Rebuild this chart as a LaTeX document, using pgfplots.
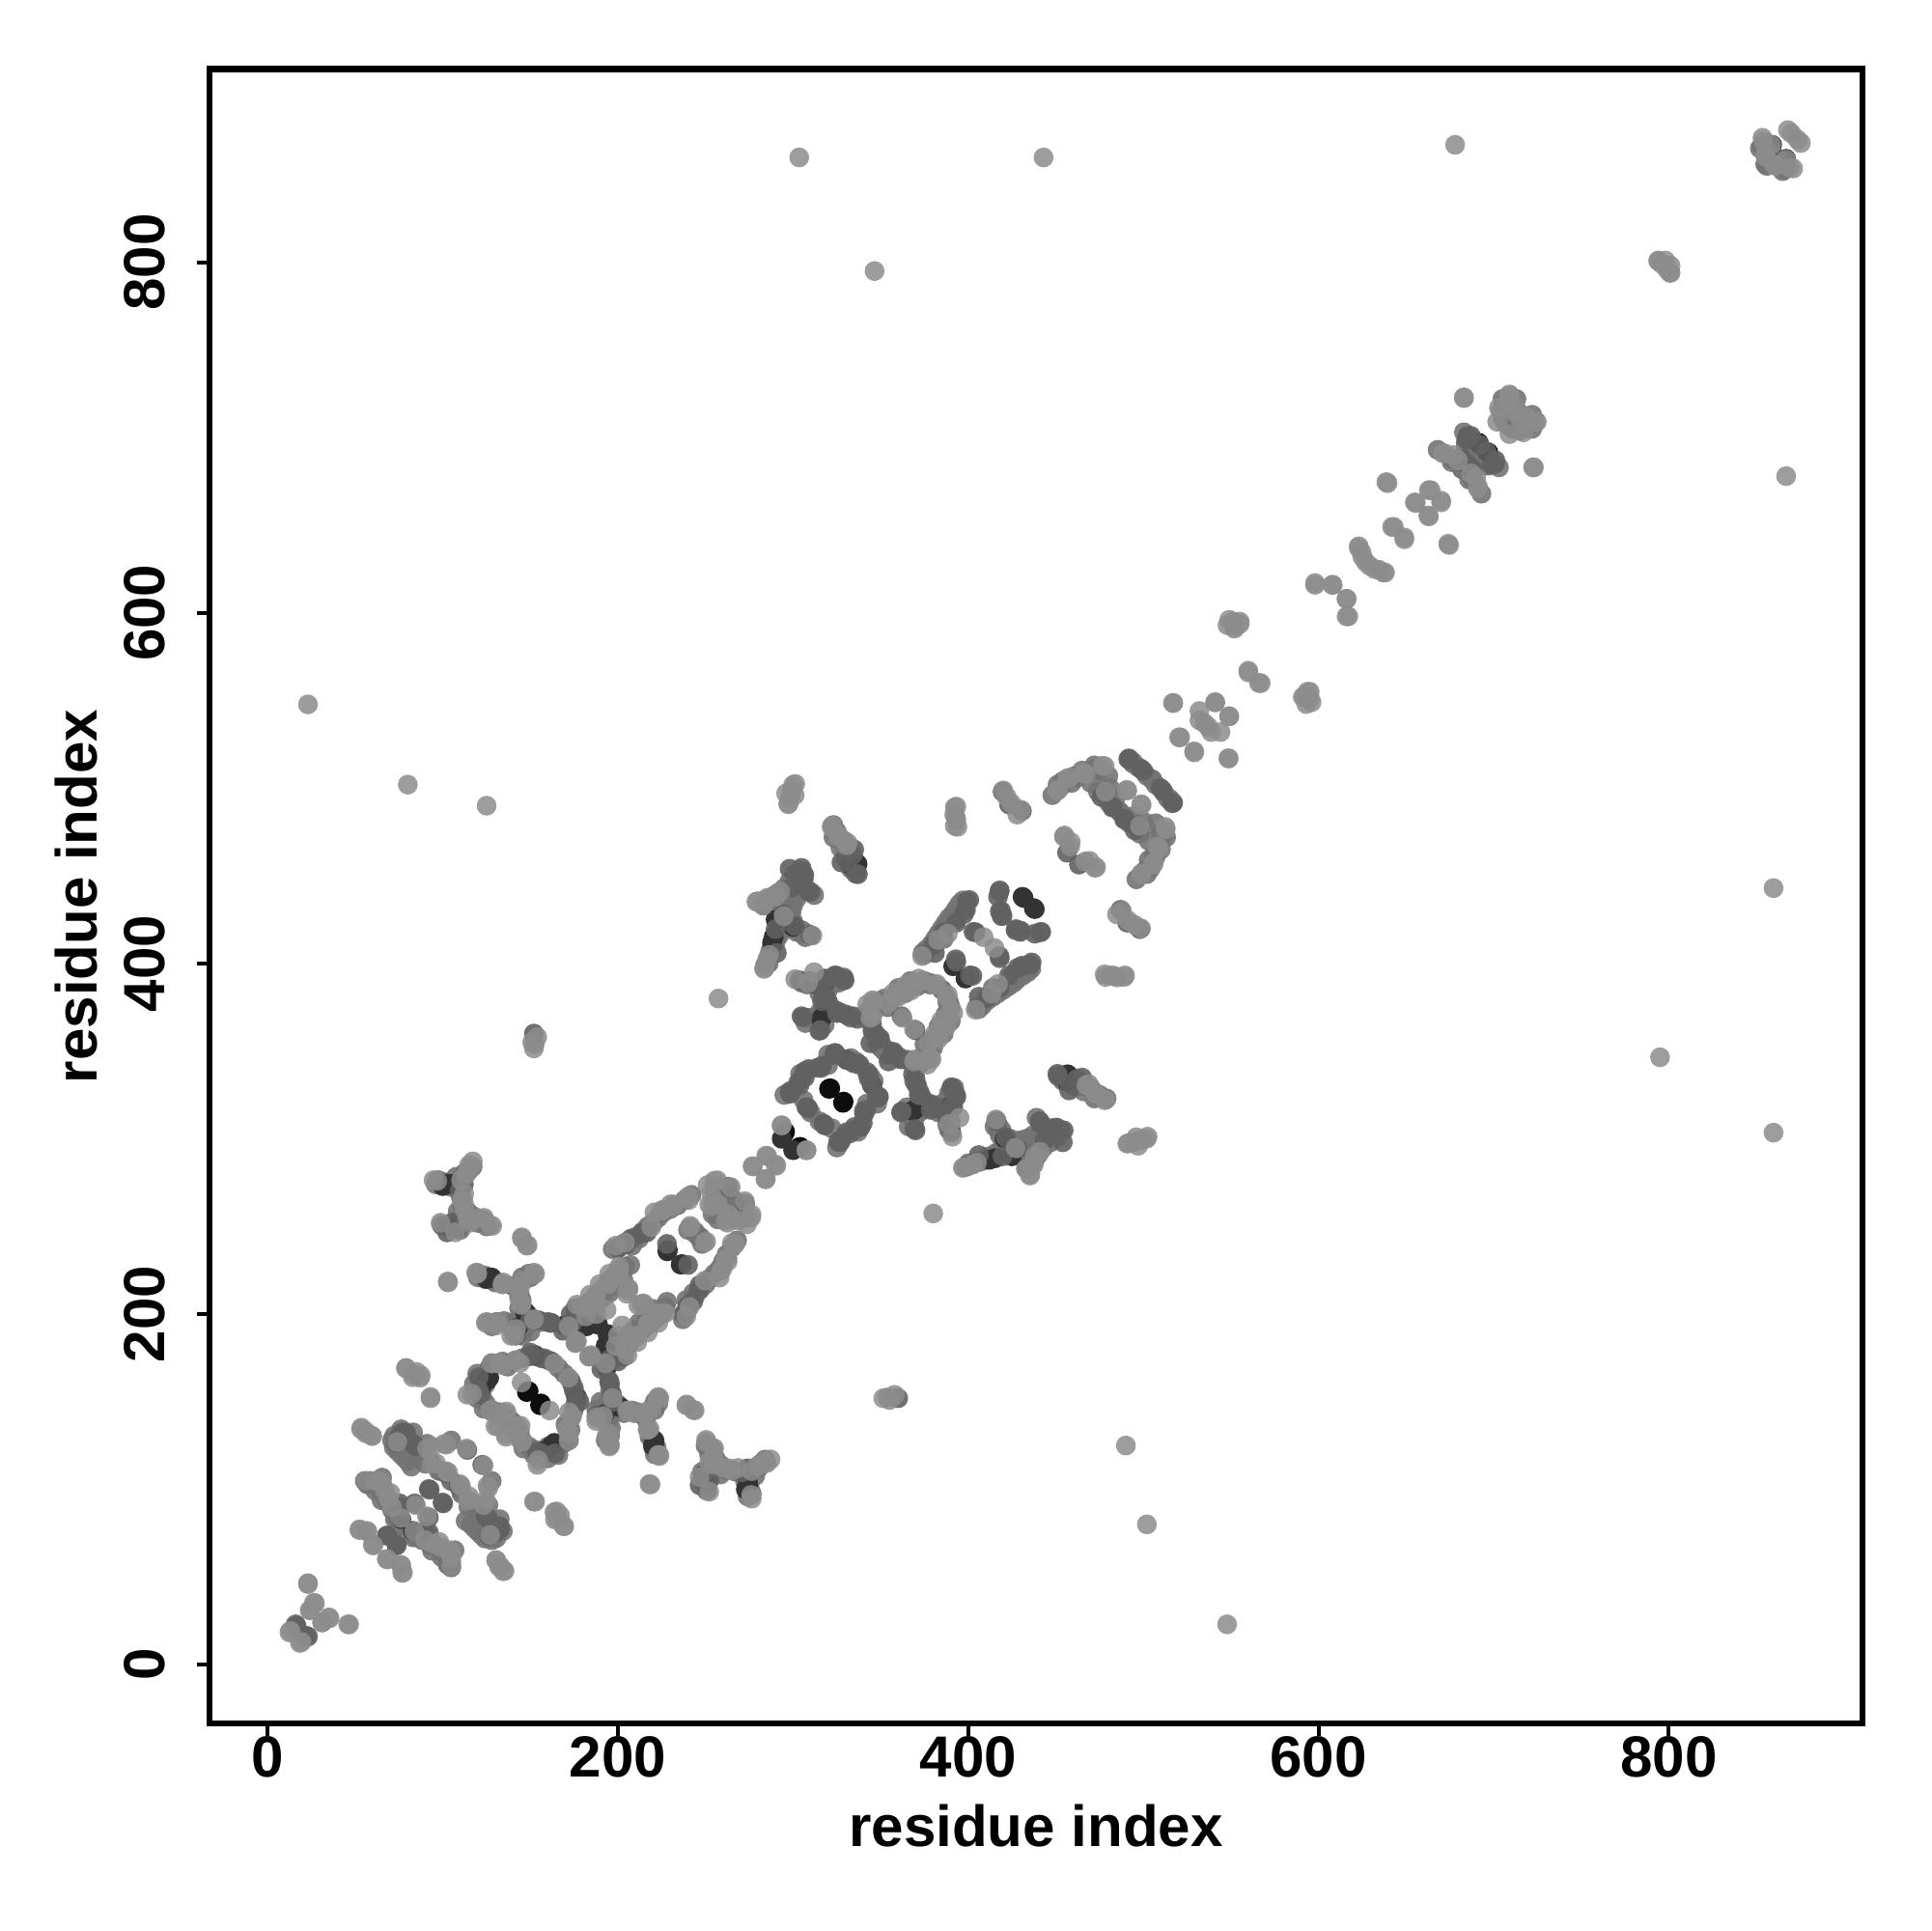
\documentclass[border=0pt]{standalone}
\usepackage{pgfplots}
\pgfplotsset{compat=1.18}
\usepackage{pgfplotstable}
\usepackage{fontspec}
\setmainfont{Liberation Sans}
\pgfplotstableread{
x y
12.4 18.4
19.3 13
23 46
27 35
24 31
31.2 24.3
35.3 26.4
46.5 23
52.4 76.8
57 76
60.3 68
68.4 60
76.3 56.5
77.2 52.5
56 104.8
60.7 104.8
65.3 103.8
70 98
84.6 91
83.7 76
90 71
94.7 69
99.3 67
104.8 63.3
93.8 124.5
102 125.5
93.8 114.6
103 109.7
123.3 113.6
110.4 101.8
115 96
126 100.8
123.3 91
127 74
53.3 134.4
59.7 130.4
56 132
87.4 165
79 169
93 152
82.8 164
85 167
152.7 93
163.7 87
169.3 79
165.6 83
130.6 59.4
135.2 53.5
133 56
127.9 171.8
134.3 170.8
141.6 173.8
163.7 171.8
172 144
172 132
154.5 116.6
145.3 128
144.4 136.3
136 143
127 145
114 154
131.5 136
136 130
161 145
103 218
218.6 102.8
145.3 243
148 239
94.7 276.4
110.4 276.4
116 284
112.2 268.5
112 263.5
119.6 254.7
127 250.7
114 254.7
119.6 223
134.3 217
145.3 219
152.7 223
143.5 209
125 195.5
130.6 193.5
141.6 191.5
139 187.6
176.6 184.6
184 175.8
193 171.8
206 145
215 144
223.6 152
217 134
223.6 119.6
195 126.5
176.6 205.4
184 211
189.5 217
195 223
200.6 227
206 214
211.6 205
222.6 200.4
202.4 193.5
206 187.6
198.7 181.7
220.8 258
230 262.6
198.7 239
204 240.8
239.3 148.4
243.8 145.1
250.3 128.2
254.9 123.5
252.1 98.7
246.6 107
259.5 112.5
265 110.7
276 96.8
279.7 113.4
287.1 117.1
285 115
252 115.3
285.3 290
277 284.2
290.4 284.6
284.4 276.9
251.2 273.6
256.7 276.3
272.4 264.4
263 257
252.1 262.5
276 255
268.7 253.3
261.4 253.3
240 267
231.9 262.5
224.5 258.8
219 249.6
241 249.6
250.3 241.3
265 240.4
261.4 231
259.5 225.7
200.6 225.7
195 218.3
187.7 211
206 214.7
213.5 205.5
224.5 200
217 194.4
209.8 187
204.3 179.7
187.7 200
175.7 183.4
196.9 152
222.7 152
215.3 142.9
218 134.6
223.6 119
205.2 144.7
187.7 141
195 124.5
195 131.8
293.5 307.6
307.7 293.4
380 257.4
351.5 152
354 152.5
358 153.9
355 151
297.2 490.8
300 501.8
300.9 496
502.4 301.2
498.7 299.3
495 298.4
491.4 297.5
497 296
473 326
478.5 322.3
467.4 330.6
438 290
435.2 279
436 284
427 294.7
415.9 311
397.5 283.7
404.9 286.4
415 408.8
373.6 404.2
382.8 413.4
388.3 417
371.7 391.4
364.4 387.7
357 383
346 378.5
381 387.7
388.3 382
390.1 373.9
384.6 367.4
381 360
377.3 354.5
379 345.3
369.9 345.3
362.5 369
342.3 376.6
344.1 369
389 308.5
391 301.2
395 312
322 477.9
325.7 472.3
331.2 468.7
279.7 435.5
285.2 437.4
283 433
292.6 441
283.4 396.9
285.2 402.4
392.9 483.4
393.8 477.9
392.3 489
482 393.2
489.5 393.2
485 392
478.5 392.3
487.7 430
484.9 428
491.4 424.5
498.7 420
495 422
454.6 472.3
458.2 466.8
469.3 458.5
473 454.9
450.9 499
456.4 505.5
465.6 509
476.6 512.8
490.5 499
498.7 490.8
478.5 498
512.5 477.9
508 466.8
506 457.6
498.7 451.2
517 548.6
521 529
529 520.4
532 538.7
537 535
541 549
544 532
549 541
548.6 517
551.4 595
548 593
555 593.7
552 591
559.9 567
566 560
595 555
596 549
592 552
598 617
608 616
616 608
616 598
623 637
625 632
629 627
634.5 624.6
638 623
639.4 674
643 649
649 642
655.6 662.7
664 670
663 655
670 663
674.6 638.7
671 691
677 690
683 722.5
687 679.6
691 672
709 702
703 717
709 724
712 718
715 711
720 708
724.6 709
723 683
794 800.7
798 801
801 794
799 796
854 869
855.6 860
861 855
870 873.5
871 853.5
875.4 868
867 858.5
303.5 859.8
443 859.8
346.5 795
678 867
23 547.8
80 502
125 490
}\lightpts
\pgfplotstableread{
x y
71 128
72 124
74 122
76 120
78 118
80 116
82 113
86.4 120.6
90 114.6
97.5 110.7
104.8 104.8
110.4 98.8
115.9 93
119.6 85
123.3 77
130.6 72.2
134.3 76.2
132.5 83
126 91
127.9 104.8
57 102.8
63.4 100.8
68 93
71.7 89
72.6 83
79 75
84.6 73
88.3 71
93.8 65
99.3 61.4
103 57.4
106.7 65.3
119.6 166
117.7 160
119.6 152
123.3 146
128.8 144
137 170
145.3 174.8
152.7 176.8
160 173.8
169.3 166
174.8 158
176.6 150
172.9 140.3
172.9 134
169.3 126.5
160 124.5
152.7 122.5
149 124.5
141.6 132.4
139.8 138.3
132.5 144
105 272.4
107.6 278.3
112.2 280.3
110.4 272.4
110.4 266.5
108.5 258.6
106.7 252.7
110.4 250.7
97.5 276.4
100 275.4
114 258.6
117.7 255.7
123.3 253.7
121.4 222
124 220
129.7 219
141.6 215.2
145.3 221
149 223
143.5 211
143.5 203.4
145.3 197.5
149 199.4
152.7 196.5
156.4 195.5
141.6 195.5
139.8 191.5
145.3 187.6
130.6 195.5
175 198
178 201
181 204
184 207
187 210
190 213
192 215
195 219
198 222
201 225
204 227
207 228
180 200
184 203
188 206
191 209
195 212
199 216
203 220
197 237
200 238
203 240
206 241
210 244
214 247
217 250
220 252
223 255
226 258
230 260
234 262
238 265
242 268
208 239
212 243
255 272
258 270
262 268
265 266
268 262
270 258
272 256
255 265
258 260
254 257
240 248
244 246
247 244
374 406
376 408
379 411
381 414
383 417
385 420
387 423
389 426
391 428
393 431
395 434
397 436
398 432
393 425
386 414
453 336
459 335
465 332
470 329
475 325
454 333
460 330
466 327
472 323
324 475
327 471
329 469
332 466
334 461
335 458
336 453
330 463
333 455
323 479
286 400
287 405
288 410
290 412
292 416
294 419
296 422
297 425
299 429
300 433
302 437
304 441
305 445
306 448
284 434
288 438
291 440
295 443
298 447
301 451
295 430
298 420
302 418
305 417
307 415
284 399
305 389
308 388
315 383
310 390
322 388
326 389
328 391
318 376
316 372
314 367
310 369
307 366
320 372
327 372
333 369
343 373
345 366
346 361
348 354
350 352
345 375
352 380
354 375
360 386
367 390
375 390
378 389
385 385
388 378
387 371
383 364
380 357
378 350
375 346
365 345
373 346
360 347
353 351
370 340
371 330
372 322
376 321
372 315
368 312
369 308
365 318
385 320
390 326
391 318
388 312
390 305
392 329
393 325
400 285
403 286
407 287
410 288
414 290
417 291
420 293
422 297
424 300
419 305
417 308
423 296
416 310
440 298
437 296
436 292
434 287
441 303
444 305
447 306
451 306
442 308
439 312
433 283
453 501
459 503
462 506
470 510
473 511
480 507
481 500
484 494
486 487
492 480
498 474
503 470
510 475
513 472
510 465
507 461
504 454
502 451
496 448
494 514
502 507
505 505
512 497
515 494
250 125
252 120
253 113
250 108
249 104
255 118
257 115
262 111
268 110
272 108
275 100
274 96
277 110
282 115
284 117
248 110
306 322
315 310
328 300
337 304
342 320
346 333
336 344
320 348
305 335
295 325
221 150
219 146
216 140
218 130
222 124
221 120
190 150
193 148
190 145
195 140
196 135
193 128
202 146
208 145
211 144
856 865
858 858
863 857
866 853
852 865
856 855
684 695
687 692
691 688
694 686
697 684
703 683
676 686
682 682
688 676
693 668
704 715
707 708
711 705
713 722
716 713
719 706
722 705
}\extrapts
\pgfplotstableread{
x y
16.5 22
23 16
68 73.6
73.6 68.3
75.4 92
76 90
92 84
104.8 58.4
104.8 55.5
75.4 130.4
73.6 126.5
79 132.4
84.6 124.5
102 109
114 122.5
92.5 99.8
100.2 92
126 83
132.5 77
120.5 164
149 175.8
156.4 174.8
173 162
172 128
156.4 120.5
121.4 154
178 150
99.3 250.7
108.5 248.7
160 195.5
154.5 196.5
175.7 203.4
195 162
197 150
191.3 142
187.7 142
204.3 239.5
213.5 246
228 240
263 272.6
246.6 216.5
243 207.3
237.4 200
173 200
180.4 203.6
195 174
184 176
190.5 168.6
195 161.3
270.5 109.7
274 112
246.6 102.4
252 105
308.3 317.7
318 307.6
335 306.7
340.5 314
348.7 324.2
298 326.9
303.7 330.6
309 339.8
316.5 341.7
342.3 338
450.9 337
462 334
443.5 299.3
449 303
454.5 304.8
440.8 310
421.4 301
419.6 290
430.6 398.7
436.2 400.6
423.3 393.2
417.8 385.9
410.4 380.3
404.9 374.8
417.8 404.2
401 393.2
403 418
392.9 402.4
399.3 435.5
397.5 428.2
381 406
418.7 430
417.8 441
419.6 427.2
427 419
429.7 418
441.7 418
438 417
369.9 361.9
361.6 345.3
357 349
349.6 357.3
344.1 354.5
329.4 390.4
323.9 393.2
318.4 391.4
312.8 387.7
303.6 390.4
316.5 378.5
324.8 373
331.2 370.2
336.8 368.4
305.5 369.3
315.6 362
369.9 334.3
371.7 325
379 319.6
369.9 304.8
361.6 315
391 328.8
392 323
382.8 317.7
330.3 345.3
323.9 349
336.8 342.6
343.2 334.3
347.8 323.3
340.4 315.9
338.6 306.7
332.2 303
325.7 298.4
317.4 308.5
334.9 465
335.8 451.2
327.6 457.6
304.6 453
306.4 450.3
298 454
309 441
294.4 428.2
310 416.2
290.7 406
419.6 498
423.3 490.7
430.6 487
478.5 498
482.2 489
489.5 482.5
495 476
491.4 516.5
498.7 511
509.8 500
517 491.7
685 700.7
681.7 688
685 684.5
696 692
701 687
699 684.5
859 862
456.4 463.2
360 152
}\midpts
\pgfplotstableread{
x y
76.3 83
125 220
103 274.4
103 250
147 201.4
169.3 193.5
200.6 147
220.8 128
192.3 142.9
220.9 127
125 162
176 153
163.7 126.5
158 122
145 128
228.2 235.8
236.5 228.5
187 194.5
194 188.6
193 182
293.5 300
431.6 437.4
438 431
300 420.8
288.9 415.3
336.8 456.7
456.4 332.5
368 315.9
316.5 369.3
398.4 391.4
412 288
425 290
859 867
274.2 104.2
273 100
345 330.6
388.3 317.7
}\darkpts
\pgfplotstableread{
x y
321.2 328.8
328.5 320.5
295.4 304
302.7 294.7
149 156
155.5 148
691.5 697
}\blackpts
\pgfplotsset{
  dot/.style 2 args={only marks,mark=*,mark size=2.6pt,mark options={draw opacity=0,line width=0pt,fill=black!#1,fill opacity=#2}},
}
\begin{document}
\begin{tikzpicture}
\path[use as bounding box] (-54.9pt,-54.3pt) rectangle (451pt,451.6pt);
\begin{axis}[
  at={(0,0)},anchor=south west,
  width=433pt,height=433.5pt,scale only axis,
  xmin=-33.2,xmax=910.5,ymin=-33.7,ymax=910.2,
  xtick={0,200,400,600,800},ytick={0,200,400,600,800},
  tick align=outside,tick pos=left,
  major tick length=3.3pt,
  tick style={black,line width=1pt},
  axis line style={line width=1.6pt},
  /pgf/number format/assume math mode=true,
  tick label style={font=\fontsize{15.2}{15.2}\selectfont\bfseries},
  yticklabel style={rotate=90,anchor=south,yshift=4.8pt},
  xticklabel style={yshift=3.6pt},
  xlabel={\fontsize{15.2}{15.2}\selectfont\bfseries residue index},
  ylabel={\fontsize{15.2}{15.2}\selectfont\bfseries residue index},
  xlabel style={at={(axis description cs:0.5,0)},anchor=center,yshift=-26.8pt},
  ylabel style={at={(axis description cs:-0.0809,0.5)},anchor=center},
  clip=true,
]
\addplot[dot={55}{0.9}] table[x index=0,y index=1]{\extrapts};
\addplot[dot={55}{0.9}] table[x index=1,y index=0]{\extrapts};
\addplot[dot={95}{1}] table[x index=0,y index=1]{\blackpts};
\addplot[dot={95}{1}] table[x index=1,y index=0]{\blackpts};
\addplot[dot={80}{1}] table[x index=0,y index=1]{\darkpts};
\addplot[dot={80}{1}] table[x index=1,y index=0]{\darkpts};
\addplot[dot={62}{0.9}] table[x index=0,y index=1]{\midpts};
\addplot[dot={62}{0.9}] table[x index=1,y index=0]{\midpts};
\addplot[dot={45}{0.85}] table[x index=0,y index=1]{\lightpts};
\addplot[dot={45}{0.85}] table[x index=1,y index=0]{\lightpts};
\end{axis}
\end{tikzpicture}
\end{document}
